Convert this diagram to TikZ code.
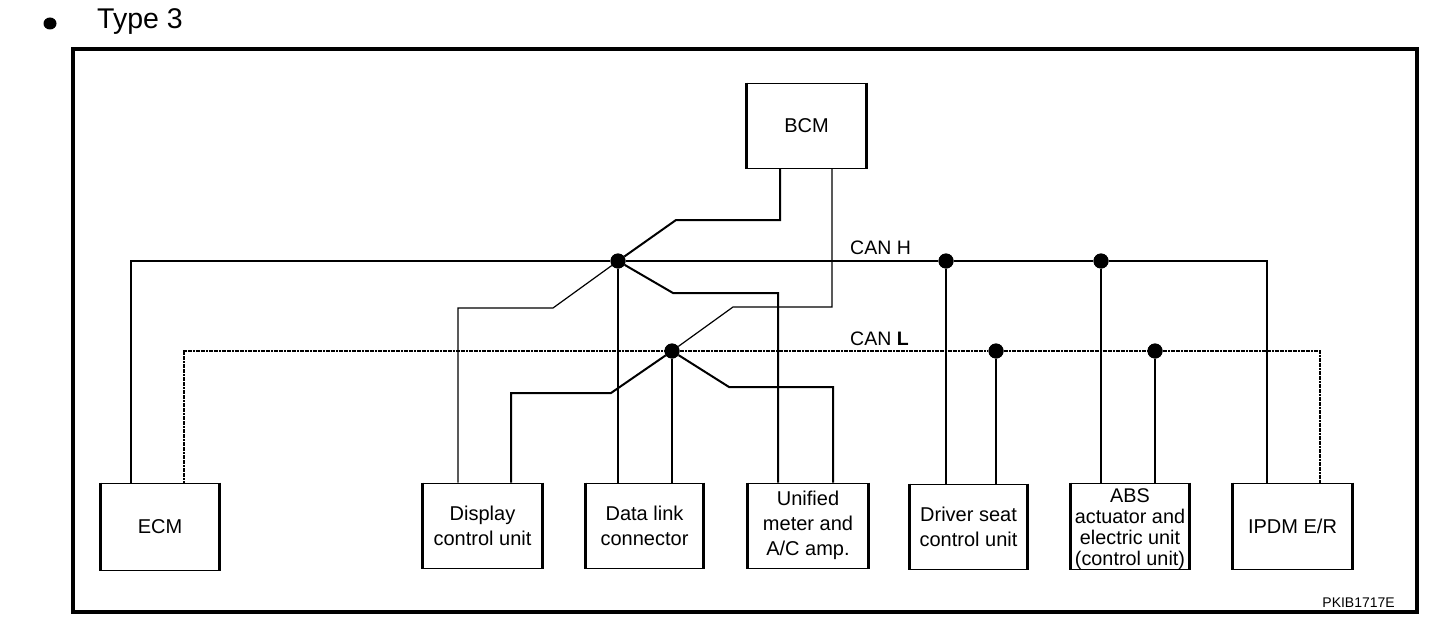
\documentclass[tikz,border=0pt]{standalone}
\usepackage{fontspec}
\setmainfont{Liberation Sans}
\begin{document}
\begin{tikzpicture}[x=1pt,y=-1pt,
  box/.style={draw, line width=1pt, minimum width=118pt, minimum height=86pt, inner sep=0pt, align=center, font=\fontsize{20}{24.8}\selectfont},
  dot/.style={circle, fill=black, inner sep=0pt, minimum size=15pt},
  bus/.style={line width=2.2pt},
  busl/.style={line width=1.2pt, dash pattern=on 2pt off 0.6pt},
  wireh/.style={line width=1.2pt},
  wirel/.style={line width=2pt},
  lbl/.style={inner sep=0pt, font=\fontsize{19.5}{22}\selectfont},
  side/.style={line width=2.2pt}]
\useasboundingbox (0,0) rectangle (1456,626);

% title
\fill (50,23.5) ellipse [x radius=6.5pt, y radius=6pt];
\node[anchor=base west, inner sep=0pt, font=\fontsize{28.5}{31}\selectfont] (title) at (97,29) {Type 3};

% frame
\draw[line width=4pt] (73,49) rectangle (1417,612);

% boxes
\node[box, minimum width=119pt, minimum height=85pt] (bcm) at (806.5,125.5) {BCM};
\node[box, minimum height=87pt] (ecm) at (160,526.5) {ECM};
\node[box, minimum width=119pt, minimum height=85pt] (dcu) at (482.5,525.5) {Display\\control unit};
\node[box, minimum width=117pt, minimum height=85pt] (dlc) at (644.5,525.5) {Data link\\connector};
\node[box, minimum width=120pt, minimum height=85pt] (uma) at (808,525.5) {Unified\\meter and\\A/C amp.};
\node[box, minimum width=117pt, minimum height=85pt] (dsc) at (968.5,526.5) {Driver seat\\control unit};
\node[box, minimum height=86pt] (abs) at (1130,526) {};
\node[inner sep=0pt, align=center, font=\fontsize{19.8}{21}\selectfont] (abstext) at ([yshift=-3.5pt]abs.center) {ABS\\actuator and\\electric unit\\(control unit)};
\node[box, minimum width=119pt] (ipdm) at (1292.5,526) {IPDM E/R};

\foreach \n in {bcm,ecm,dcu,dlc,uma,dsc,abs,ipdm}
  \draw[side] (\n.north west) -- (\n.south west) (\n.north east) -- (\n.south east);

% junctions
\node[dot] (jH) at (618,261) {};
\node[dot] (jL) at (672,351) {};
\node[dot] (dH1) at (946,261) {};
\node[dot] (dH2) at (1101,261) {};
\node[dot] (dL1) at (996,351) {};
\node[dot] (dL2) at (1155,351) {};

\coordinate (hA) at (676,220);
\coordinate (hB) at (553,308);
\coordinate (hC) at (673,293);
\coordinate (lA) at (733,307);
\coordinate (lB) at (611,393);
\coordinate (lC) at (729,387);

% buses
\draw[bus] ([xshift=-29pt]ecm.north) |- (jH) -- (dH1) -- (dH2) -| ([xshift=-25.5pt]ipdm.north);
\draw[busl] ([xshift=24pt]ecm.north) |- (jL) -- (dL1) -- (dL2) -| ([xshift=27.5pt]ipdm.north);

% bus labels
\node[lbl, anchor=base west] (canh) at (850,254.5) {CAN H};
\node[lbl, anchor=base west] (canl) at (850,345.5) {CAN \textbf{L}};

% central branches (CAN H)
\draw[wirel] ([xshift=-26.5pt]bcm.south) |- (hA) -- (jH);
\draw[wireh] (jH) -- (hB) -| ([xshift=-24.5pt]dcu.north);
\draw[wireh] (jH) -- (jH |- dlc.north);
\draw[wirel] (jH) -- (hC) -| ([xshift=-30pt]uma.north);

% central branches (CAN L)
\draw[wireh] ([xshift=25.5pt]bcm.south) |- (lA) -- (jL);
\draw[wirel] (jL) -- (lB) -| ([xshift=28.5pt]dcu.north);
\draw[wirel] (jL) -- (jL |- dlc.north);
\draw[wirel] (jL) -- (lC) -| ([xshift=25pt]uma.north);

% right drops
\draw[wirel] (dH1) -- (dH1 |- dsc.north);
\draw[wirel] (dL1) -- (dL1 |- dsc.north);
\draw[wireh] (dH2) -- (dH2 |- abs.north);
\draw[wirel] (dL2) -- (dL2 |- abs.north);

% redraw dots on top
\foreach \d in {jH,jL,dH1,dH2,dL1,dL2}
  \fill (\d) circle (7.5pt);

% code
\node[anchor=base east, inner sep=0pt, font=\fontsize{14}{16}\selectfont] (code) at (1395,607.5) {PKIB1717E};
\end{tikzpicture}
\end{document}
